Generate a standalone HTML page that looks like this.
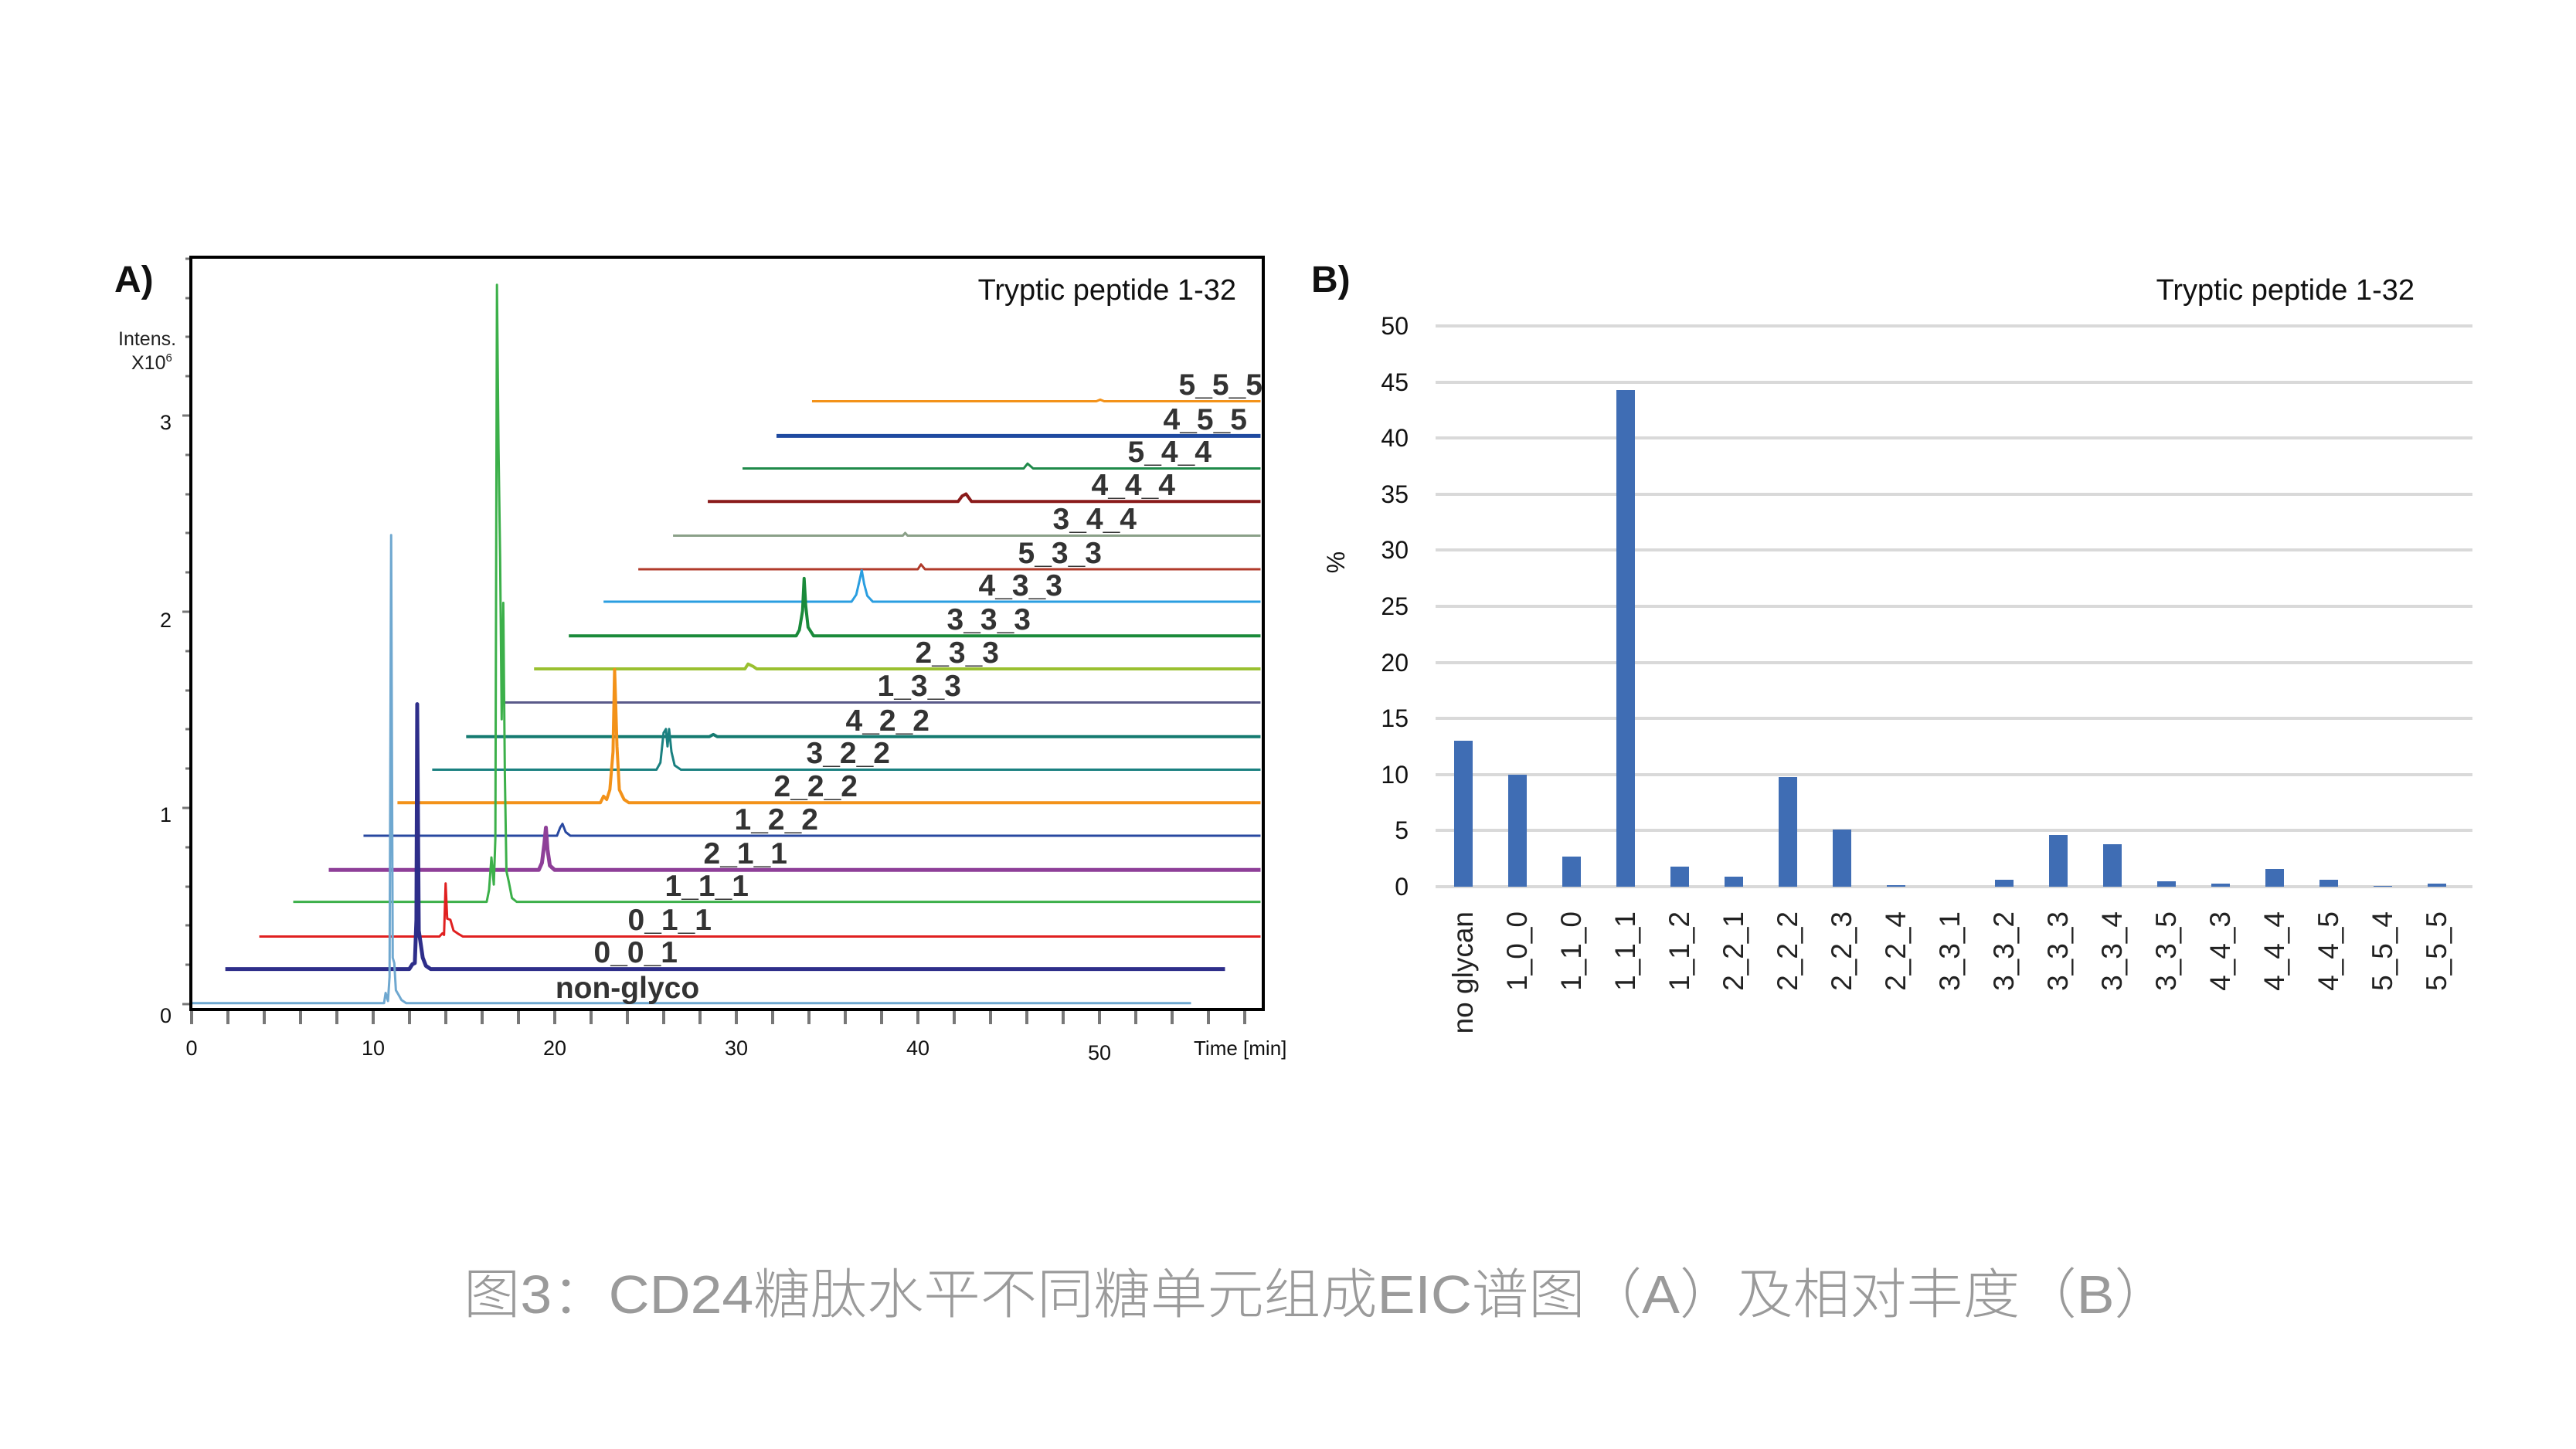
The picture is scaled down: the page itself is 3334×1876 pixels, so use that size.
<!DOCTYPE html>
<html><head><meta charset="utf-8"><style>
html,body{margin:0;padding:0;background:#fff;}
svg{display:block;}
text{font-family:"Liberation Sans","Noto Sans CJK SC",sans-serif;}
</style></head><body>
<svg width="3334" height="1876" viewBox="0 0 3334 1876" xmlns="http://www.w3.org/2000/svg">
<rect width="3334" height="1876" fill="#fff"/>
<!-- Panel A -->
<text x="148" y="378" font-size="48" font-weight="bold" fill="#111">A)</text>
<text x="153" y="447" font-size="25" fill="#222">Intens.</text>
<text x="170" y="478" font-size="25" fill="#222">X10<tspan font-size="15" dy="-10">6</tspan></text>
<text x="1600" y="388" font-size="38" fill="#111" text-anchor="end">Tryptic peptide 1-32</text>
<g stroke="#777" stroke-width="4">
<line x1="248" y1="1307" x2="248" y2="1326"/><line x1="295" y1="1307" x2="295" y2="1326"/><line x1="342" y1="1307" x2="342" y2="1326"/><line x1="389" y1="1307" x2="389" y2="1326"/><line x1="436" y1="1307" x2="436" y2="1326"/><line x1="483" y1="1307" x2="483" y2="1326"/><line x1="530" y1="1307" x2="530" y2="1326"/><line x1="577" y1="1307" x2="577" y2="1326"/><line x1="624" y1="1307" x2="624" y2="1326"/><line x1="671" y1="1307" x2="671" y2="1326"/><line x1="718" y1="1307" x2="718" y2="1326"/><line x1="765" y1="1307" x2="765" y2="1326"/><line x1="812" y1="1307" x2="812" y2="1326"/><line x1="859" y1="1307" x2="859" y2="1326"/><line x1="906" y1="1307" x2="906" y2="1326"/><line x1="953" y1="1307" x2="953" y2="1326"/><line x1="1000" y1="1307" x2="1000" y2="1326"/><line x1="1047" y1="1307" x2="1047" y2="1326"/><line x1="1094" y1="1307" x2="1094" y2="1326"/><line x1="1141" y1="1307" x2="1141" y2="1326"/><line x1="1188" y1="1307" x2="1188" y2="1326"/><line x1="1235" y1="1307" x2="1235" y2="1326"/><line x1="1282" y1="1307" x2="1282" y2="1326"/><line x1="1329" y1="1307" x2="1329" y2="1326"/><line x1="1376" y1="1307" x2="1376" y2="1326"/><line x1="1423" y1="1307" x2="1423" y2="1326"/><line x1="1470" y1="1307" x2="1470" y2="1326"/><line x1="1517" y1="1307" x2="1517" y2="1326"/><line x1="1564" y1="1307" x2="1564" y2="1326"/><line x1="1611" y1="1307" x2="1611" y2="1326"/>
</g>
<g stroke="#777" stroke-width="3">
<line x1="236" y1="1300" x2="246" y2="1300"/><line x1="240" y1="1249" x2="246" y2="1249"/><line x1="240" y1="1198" x2="246" y2="1198"/><line x1="240" y1="1148" x2="246" y2="1148"/><line x1="240" y1="1097" x2="246" y2="1097"/><line x1="236" y1="1046" x2="246" y2="1046"/><line x1="240" y1="995" x2="246" y2="995"/><line x1="240" y1="944" x2="246" y2="944"/><line x1="240" y1="894" x2="246" y2="894"/><line x1="240" y1="843" x2="246" y2="843"/><line x1="236" y1="792" x2="246" y2="792"/><line x1="240" y1="741" x2="246" y2="741"/><line x1="240" y1="690" x2="246" y2="690"/><line x1="240" y1="640" x2="246" y2="640"/><line x1="240" y1="589" x2="246" y2="589"/><line x1="236" y1="538" x2="246" y2="538"/><line x1="240" y1="487" x2="246" y2="487"/><line x1="240" y1="436" x2="246" y2="436"/><line x1="240" y1="386" x2="246" y2="386"/><line x1="240" y1="335" x2="246" y2="335"/>
</g>
<g font-size="27" fill="#111" text-anchor="end">
<text x="222" y="1324">0</text><text x="222" y="1064">1</text><text x="222" y="812">2</text><text x="222" y="556">3</text>
</g>
<g font-size="27" fill="#111" text-anchor="middle">
<text x="248" y="1366">0</text><text x="483" y="1366">10</text><text x="718" y="1366">20</text><text x="953" y="1366">30</text><text x="1188" y="1366">40</text><text x="1423" y="1372">50</text>
</g>
<text x="1545" y="1366" font-size="26" fill="#111">Time [min]</text>

<g transform="translate(100.5 300) scale(1.022 0.7014)" fill="none" stroke-linejoin="round">
<polyline vector-effect="non-scaling-stroke" stroke="#f39219" stroke-width="3" points="930,313 1290,313 1295,310 1300,313 1498,313"/>
<polyline vector-effect="non-scaling-stroke" stroke="#1f4aa0" stroke-width="5" points="885,377 1498,377"/>
<polyline vector-effect="non-scaling-stroke" stroke="#1f8a4a" stroke-width="3" points="842,437 1198,437 1203,428 1210,437 1498,437"/>
<polyline vector-effect="non-scaling-stroke" stroke="#8a1a1a" stroke-width="4" points="798,498 1115,498 1120,488 1125,484 1132,498 1498,498"/>
<polyline vector-effect="non-scaling-stroke" stroke="#8aa088" stroke-width="3" points="754,561 1045,561 1048,556 1051,561 1498,561"/>
<polyline vector-effect="non-scaling-stroke" stroke="#b03a2a" stroke-width="3" points="710,623 1064,623 1068,614 1073,623 1498,623"/>
<polyline vector-effect="non-scaling-stroke" stroke="#2a9ee0" stroke-width="3" points="666,683 980,683 986,670 990,645 993,625 996,650 1000,672 1007,683 1498,683"/>
<polyline vector-effect="non-scaling-stroke" stroke="#1a8a3a" stroke-width="4" points="622,746 910,746 914,735 918,700 920,640 922,690 925,730 932,746 1498,746"/>
<polyline vector-effect="non-scaling-stroke" stroke="#9ac030" stroke-width="4" points="578,807 845,807 849,798 855,802 860,807 1498,807"/>
<polyline vector-effect="non-scaling-stroke" stroke="#5a5a8a" stroke-width="3" points="537,869 1498,869"/>
<polyline vector-effect="non-scaling-stroke" stroke="#147a70" stroke-width="4" points="492,932 800,932 805,928 810,932 1498,932"/>
<polyline vector-effect="non-scaling-stroke" stroke="#1a8080" stroke-width="3" points="449,993 733,993 738,980 742,925 745,918 747,950 749,918 752,960 756,985 764,993 1498,993"/>
<polyline vector-effect="non-scaling-stroke" stroke="#f39219" stroke-width="4" points="405,1054 662,1054 666,1042 670,1048 674,1030 678,960 680,808 683,950 686,1030 692,1048 698,1054 1498,1054"/>
<polyline vector-effect="non-scaling-stroke" stroke="#2848a0" stroke-width="3" points="362,1115 607,1115 611,1100 614,1093 618,1108 624,1115 1498,1115"/>
<polyline vector-effect="non-scaling-stroke" stroke="#8e3f98" stroke-width="5" points="318,1178 584,1178 588,1165 591,1130 593,1100 595,1140 598,1170 604,1178 1498,1178"/>
<polyline vector-effect="non-scaling-stroke" stroke="#3cb04a" stroke-width="3" points="273,1237 518,1237 521,1215 524,1155 527,1205 529,1120 531,98 533,400 535,600 537,900 539,685 541,1000 543,1180 546,1200 550,1230 556,1237 1498,1237"/>
<polyline vector-effect="non-scaling-stroke" stroke="#e02020" stroke-width="3" points="230,1301 458,1301 462,1295 464,1298 466,1203 468,1268 472,1270 476,1290 482,1296 488,1301 1498,1301"/>
<polyline vector-effect="non-scaling-stroke" stroke="#2e2e8a" stroke-width="5" points="187,1361 420,1361 424,1352 427,1350 429,1270 430,872 432,1290 434,1310 437,1340 441,1355 447,1361 1453,1361"/>
<polyline vector-effect="non-scaling-stroke" stroke="#6fa8d0" stroke-width="3" points="143,1424 388,1424 390,1405 393,1420 395,1375 397,560 399,1340 401,1350 403,1400 407,1410 410,1418 416,1424 1410,1424"/>
</g>
<g font-size="39" font-weight="bold" fill="#333" text-anchor="end">
<text x="1634" y="511">5_5_5</text>
<text x="1614" y="556">4_5_5</text>
<text x="1568" y="598">5_4_4</text>
<text x="1521" y="641">4_4_4</text>
<text x="1471" y="685">3_4_4</text>
<text x="1426" y="729">5_3_3</text>
<text x="1375" y="771">4_3_3</text>
<text x="1334" y="815">3_3_3</text>
<text x="1293" y="858">2_3_3</text>
<text x="1244" y="901">1_3_3</text>
<text x="1203" y="946">4_2_2</text>
<text x="1152" y="988">3_2_2</text>
<text x="1110" y="1031">2_2_2</text>
<text x="1059" y="1074">1_2_2</text>
<text x="1019" y="1118">2_1_1</text>
<text x="969" y="1160">1_1_1</text>
<text x="921" y="1204">0_1_1</text>
<text x="877" y="1246">0_0_1</text>
<text x="812" y="1292" text-anchor="middle">non-glyco</text>
</g>
<rect x="247" y="333" width="1388" height="974" fill="none" stroke="#000" stroke-width="4"/>

<!-- Panel B -->
<text x="1697" y="378" font-size="48" font-weight="bold" fill="#111">B)</text>
<text x="3125" y="388" font-size="38" fill="#111" text-anchor="end">Tryptic peptide 1-32</text>
<g stroke="#d9d9d9" stroke-width="4">
<line x1="1858" y1="422" x2="3200" y2="422"/><line x1="1858" y1="495" x2="3200" y2="495"/><line x1="1858" y1="567" x2="3200" y2="567"/><line x1="1858" y1="640" x2="3200" y2="640"/><line x1="1858" y1="712" x2="3200" y2="712"/><line x1="1858" y1="785" x2="3200" y2="785"/><line x1="1858" y1="858" x2="3200" y2="858"/><line x1="1858" y1="930" x2="3200" y2="930"/><line x1="1858" y1="1003" x2="3200" y2="1003"/><line x1="1858" y1="1075" x2="3200" y2="1075"/><line x1="1858" y1="1148" x2="3200" y2="1148"/>
</g>
<g font-size="32" fill="#111" text-anchor="end">
<text x="1823" y="433">50</text><text x="1823" y="506">45</text><text x="1823" y="578">40</text><text x="1823" y="651">35</text><text x="1823" y="723">30</text><text x="1823" y="796">25</text><text x="1823" y="869">20</text><text x="1823" y="941">15</text><text x="1823" y="1014">10</text><text x="1823" y="1086">5</text><text x="1823" y="1159">0</text>
</g>
<text transform="translate(1740 728) rotate(-90)" font-size="32" fill="#111" text-anchor="middle">%</text>
<g fill="#3f6db4">
<rect x="1882" y="959" width="24" height="189"/>
<rect x="1952" y="1003" width="24" height="145"/>
<rect x="2022" y="1109" width="24" height="39"/>
<rect x="2092" y="505" width="24" height="643"/>
<rect x="2162" y="1122" width="24" height="26"/>
<rect x="2232" y="1135" width="24" height="13"/>
<rect x="2302" y="1006" width="24" height="142"/>
<rect x="2372" y="1074" width="24" height="74"/>
<rect x="2442" y="1146" width="24" height="2"/>
<rect x="2582" y="1139" width="24" height="9"/>
<rect x="2652" y="1081" width="24" height="67"/>
<rect x="2722" y="1093" width="24" height="55"/>
<rect x="2792" y="1141" width="24" height="7"/>
<rect x="2862" y="1144" width="24" height="4"/>
<rect x="2932" y="1125" width="24" height="23"/>
<rect x="3002" y="1139" width="24" height="9"/>
<rect x="3072" y="1147" width="24" height="1"/>
<rect x="3142" y="1144" width="24" height="4"/>
</g>
<g font-size="37" fill="#222" text-anchor="end">
<text transform="translate(1906 1180) rotate(-90)">no glycan</text>
<text transform="translate(1976 1180) rotate(-90)">1_0_0</text>
<text transform="translate(2046 1180) rotate(-90)">1_1_0</text>
<text transform="translate(2116 1180) rotate(-90)">1_1_1</text>
<text transform="translate(2186 1180) rotate(-90)">1_1_2</text>
<text transform="translate(2256 1180) rotate(-90)">2_2_1</text>
<text transform="translate(2326 1180) rotate(-90)">2_2_2</text>
<text transform="translate(2396 1180) rotate(-90)">2_2_3</text>
<text transform="translate(2466 1180) rotate(-90)">2_2_4</text>
<text transform="translate(2536 1180) rotate(-90)">3_3_1</text>
<text transform="translate(2606 1180) rotate(-90)">3_3_2</text>
<text transform="translate(2676 1180) rotate(-90)">3_3_3</text>
<text transform="translate(2746 1180) rotate(-90)">3_3_4</text>
<text transform="translate(2816 1180) rotate(-90)">3_3_5</text>
<text transform="translate(2886 1180) rotate(-90)">4_4_3</text>
<text transform="translate(2956 1180) rotate(-90)">4_4_4</text>
<text transform="translate(3026 1180) rotate(-90)">4_4_5</text>
<text transform="translate(3096 1180) rotate(-90)">5_5_4</text>
<text transform="translate(3166 1180) rotate(-90)">5_5_5</text>
</g>

<!-- Caption -->
<text x="600" y="1700" font-size="70" fill="#9a9a9a" textLength="2210" lengthAdjust="spacingAndGlyphs" style="font-family:'Liberation Sans','Noto Sans CJK SC',sans-serif;font-weight:300">图3：CD24糖肽水平不同糖单元组成EIC谱图（A）及相对丰度（B）</text>
</svg>
</body></html>
